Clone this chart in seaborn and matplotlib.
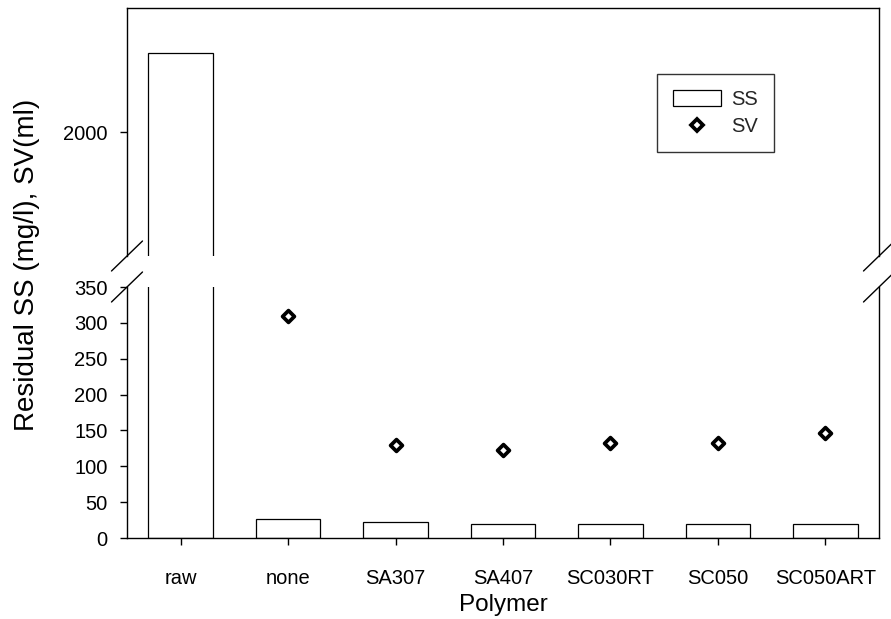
import matplotlib
matplotlib.use("Agg")
import matplotlib.pyplot as plt
from matplotlib.lines import Line2D
from matplotlib.patches import Patch
import numpy as np
import pandas as pd
import seaborn as sns

# Residual suspended solids and sludge volume per polymer
polymers = ["raw", "none", "SA307", "SA407", "SC030RT", "SC050", "SC050ART"]
ss_values = [2320, 26, 22, 20, 20, 20, 20]          # mg/l
sv_values = [np.nan, 309, 130, 123, 133, 132, 147]  # ml

lower_ticks = [0, 50, 100, 150, 200, 250, 300, 350]
upper_ticks = [2000]

df = pd.DataFrame({"Polymer": polymers, "SS": ss_values, "SV": sv_values})

sns.set_theme(style="white")
plt.rcParams["font.family"] = ["Liberation Sans", "DejaVu Sans"]

W, H = 891, 619
fig = plt.figure(figsize=(W / 100, H / 100), dpi=100)

left, right = 127, 879
top_y0, top_y1 = 8, 256      # upper panel (pixels from top)
bot_y0, bot_y1 = 287, 538    # lower panel

def rect(y0, y1):
    return [left / W, 1 - y1 / H, (right - left) / W, (y1 - y0) / H]

ax_top = fig.add_axes(rect(top_y0, top_y1))
ax_bot = fig.add_axes(rect(bot_y0, bot_y1))

for ax in (ax_top, ax_bot):
    sns.barplot(data=df, x="Polymer", y="SS", order=polymers, ax=ax,
                color="white", edgecolor="black", linewidth=0.9,
                width=0.6, saturation=1, errorbar=None, zorder=2)

sns.stripplot(data=df, x="Polymer", y="SV", order=polymers, ax=ax_bot,
              jitter=False, marker="D", size=6, color="white",
              edgecolor="black", linewidth=2.7, zorder=3)

ax_bot.set_ylim(0, 350)
ax_top.set_ylim(1500, 2500)
for ax in (ax_top, ax_bot):
    ax.set_xlim(-0.5, len(polymers) - 0.5)
    ax.set_facecolor("white")
    for sp in ax.spines.values():
        sp.set_color("black")
        sp.set_linewidth(1.0)
    ax.set_ylabel("")
    ax.set_xlabel("")

ax_bot.set_yticks(lower_ticks)
ax_top.set_yticks(upper_ticks)

ax_top.spines["bottom"].set_visible(False)
ax_bot.spines["top"].set_visible(False)
ax_top.tick_params(axis="x", bottom=False, labelbottom=False)
ax_top.tick_params(axis="y", left=True, direction="out", length=5, width=1,
                   pad=9, labelsize=14.5, colors="black")
ax_bot.tick_params(axis="y", left=True, direction="out", length=5, width=1,
                   pad=9, labelsize=14.5, colors="black")
ax_bot.tick_params(axis="x", bottom=True, direction="out", length=5, width=1,
                   pad=17, labelsize=14.5, colors="black")

ax_bot.set_xlabel("Polymer", fontsize=17.5, labelpad=5, color="black")
fig.text(27 / W, 1 - 265 / H, "Residual SS (mg/l), SV(ml)", rotation=90,
         ha="center", va="center", fontsize=20, color="black")

# Axis-break slashes on both sides of the frame
for x in (left, right):
    for y in (top_y1, bot_y0):
        fig.add_artist(Line2D([(x - 15.5) / W, (x + 15.5) / W],
                              [1 - (y + 15) / H, 1 - (y - 15) / H],
                              color="black", lw=1.0))

handles = [
    Patch(facecolor="white", edgecolor="black", linewidth=0.9, label="SS"),
    Line2D([], [], marker="D", linestyle="none", markersize=6,
           markerfacecolor="white", markeredgecolor="black",
           markeredgewidth=2.7, label="SV"),
]
leg = ax_top.legend(handles=handles, loc="upper left",
                    bbox_to_anchor=(657 / W, 1 - 74 / H),
                    bbox_transform=fig.transFigure, fontsize=14.5,
                    frameon=True, fancybox=False, edgecolor="black",
                    handlelength=2.4, handleheight=0.8, labelspacing=0.4,
                    borderpad=0.8, handletextpad=0.5, borderaxespad=0)
leg.get_frame().set_linewidth(1.0)

fig.savefig("out.png", dpi=100, facecolor="white")
